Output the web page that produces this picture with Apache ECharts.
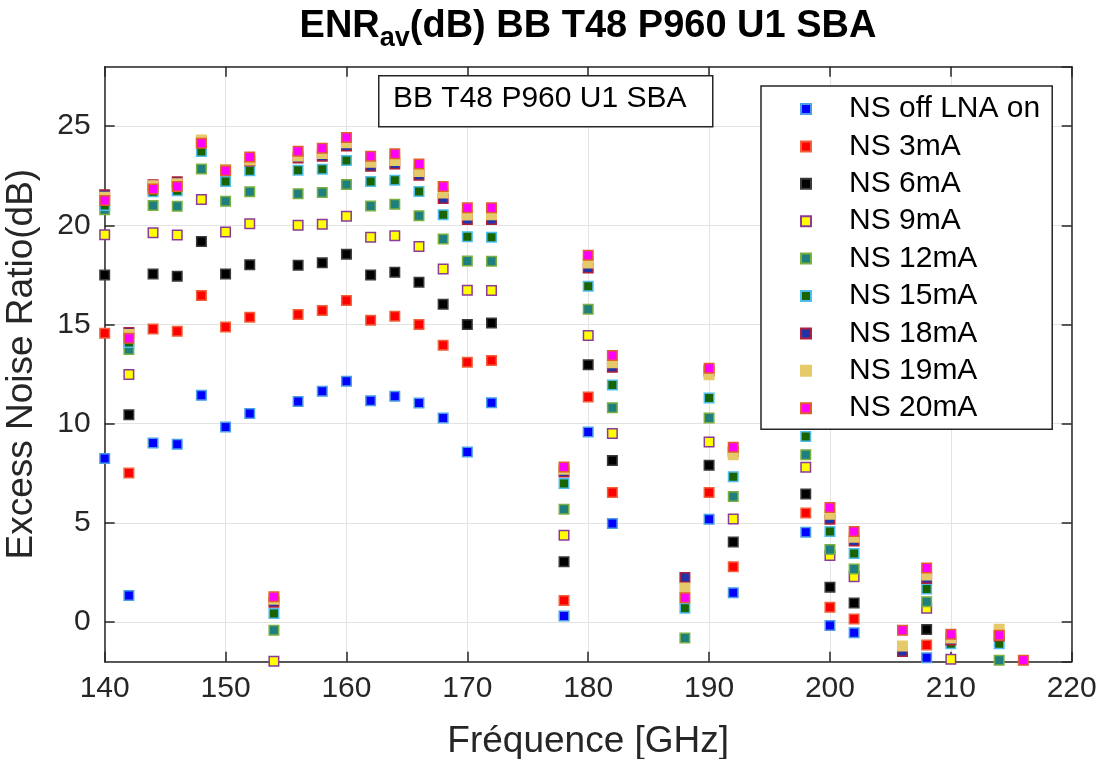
<!DOCTYPE html>
<html>
<head>
<meta charset="utf-8">
<script src="https://cdn.jsdelivr.net/npm/echarts@6/dist/echarts.min.js"></script>
<style>html,body{margin:0;padding:0;background:#fff}#c{width:1104px;height:759px}</style>
</head>
<body>
<div id="c"></div>
<script>
const freq = [140,142,144,146,148,150,152,154,156,158,160,162,164,166,168,170,172,178,180,182,188,190,192,198,200,202,206,208,210,214,216];
const nsOff = [8.24,1.34,9.03,8.96,11.43,9.83,10.52,null,11.12,11.63,12.14,11.16,11.39,11.04,10.29,8.57,11.06,0.30,9.58,4.97,null,5.18,1.48,4.53,-0.17,-0.54,null,-1.8,null,null,null];
const ns3 = [14.56,7.52,14.77,14.66,16.46,14.87,15.37,null,15.5,15.71,16.21,15.22,15.42,15.0,13.96,13.1,13.19,1.09,11.34,6.53,null,6.53,2.79,5.5,0.74,0.15,null,-1.16,null,null,null];
const ns6 = [17.5,10.45,17.55,17.43,19.19,17.55,18.01,null,17.99,18.11,18.55,17.5,17.63,17.13,16.02,15.0,15.08,3.04,12.97,8.14,null,7.9,4.03,6.46,1.76,0.96,null,-0.38,null,null,null];
const ns9 = [19.53,12.48,19.63,19.51,21.31,19.66,20.08,-1.98,20.0,20.06,20.46,19.4,19.48,18.94,17.8,16.73,16.71,4.38,14.45,9.5,null,9.08,5.2,7.8,3.36,2.28,null,0.69,-1.88,null,null];
const ns12 = [20.79,13.74,21.0,20.96,22.84,21.21,21.69,-0.42,21.6,21.66,22.06,20.98,21.06,20.49,19.31,18.2,18.19,5.69,15.77,10.81,-0.8,10.29,6.33,8.44,3.66,2.67,null,1.02,null,-1.93,null];
const ns15 = [21.0,14.1,21.7,21.75,23.72,22.21,22.76,0.43,22.78,22.83,23.27,22.21,22.28,21.71,20.54,19.43,19.4,6.98,16.93,11.95,0.7,11.29,7.33,9.36,4.56,3.46,null,1.66,-1.1,-1.09,null];
const ns18 = [21.55,14.6,22.05,22.2,24.2,22.8,23.25,1.0,23.4,23.49,24.0,22.98,23.09,22.53,21.36,20.3,20.29,7.57,17.85,12.84,2.25,12.65,8.6,null,5.18,4.08,-1.48,2.2,-0.9,-0.7,null];
const ns19 = [21.42,14.5,22.0,22.1,24.3,22.8,23.3,1.15,23.5,23.62,24.16,23.18,23.27,22.72,21.63,20.52,20.54,7.7,18.1,13.07,1.71,12.47,8.44,null,5.44,4.28,-1.21,2.37,-0.8,-0.37,null];
const ns20 = [21.26,14.31,21.83,21.96,24.14,22.75,23.45,1.27,23.74,23.89,24.43,23.49,23.61,23.09,21.96,20.89,20.89,7.82,18.49,13.44,1.22,12.79,8.81,null,5.77,4.56,-0.42,2.73,-0.62,-0.67,-1.93];

const seriesNames = ['NS off LNA on','NS 3mA','NS 6mA','NS 9mA','NS 12mA','NS 15mA','NS 18mA','NS 19mA','NS 20mA'];
const seriesValues = [nsOff, ns3, ns6, ns9, ns12, ns15, ns18, ns19, ns20];
const fillColors = ['#0000ff','#ff0000','#000000','#ffff00','#1f7f7f','#1a6400','#2233aa','#e6ca6a','#ff00ff'];
const edgeColors = ['#4a9de6','#f0603a','#3a3a3a','#8a3a9a','#7ab040','#4dbeee','#b0203a','#e6ca6a','#e0602a'];

const xTicks = {min:140, max:220, interval:10};
const yRange = {min:-2, max:28};

const chart = echarts.init(document.getElementById('c'), null, {renderer:'canvas'});
const axisColor = '#262626';
const fontFam = 'Liberation Sans, Arial, sans-serif';

const series = seriesNames.map((name, k) => ({
  name: name,
  type: 'scatter',
  symbol: 'rect',
  symbolSize: 9.5,
  z: 2 + k * 0.01,
  itemStyle: {color: fillColors[k], borderColor: edgeColors[k], borderWidth: 1.5, opacity: 1},
  emphasis: {disabled: true},
  data: freq.map((f, i) => [f, seriesValues[k][i]]).filter(d => d[1] !== null)
}));

chart.setOption({
  animation: false,
  backgroundColor: '#fff',
  textStyle: {fontFamily: fontFam},
  grid: {left: 104.7, right: 32.3, top: 66.7, bottom: 97.3, containLabel: false, outerBoundsMode: 'none'},
  xAxis: [{
    type: 'value', position: 'bottom', min: xTicks.min, max: xTicks.max, interval: xTicks.interval,
    axisLine: {show: true, onZero: false, lineStyle: {color: axisColor, width: 1.5}},
    axisTick: {show: true, inside: true, length: 10, lineStyle: {color: axisColor, width: 1.5}},
    splitLine: {show: true, lineStyle: {color: '#e3e3e3', width: 1}},
    axisLabel: {fontSize: 30, color: axisColor, margin: 12, fontFamily: fontFam},
    name: 'Fréquence [GHz]', nameLocation: 'middle', nameGap: 62,
    nameTextStyle: {fontSize: 37, color: axisColor, fontFamily: fontFam}
  }, {
    type: 'value', position: 'top', min: xTicks.min, max: xTicks.max, interval: xTicks.interval,
    axisLine: {show: true, onZero: false, lineStyle: {color: axisColor, width: 1.5}},
    axisTick: {show: true, inside: true, length: 10, lineStyle: {color: axisColor, width: 1.5}},
    splitLine: {show: false}, axisLabel: {show: false}
  }],
  yAxis: [{
    type: 'value', position: 'left', min: yRange.min, max: yRange.max, splitNumber: 6,
    axisLine: {show: true, onZero: false, lineStyle: {color: axisColor, width: 1.5}},
    axisTick: {show: true, inside: true, length: 10, lineStyle: {color: axisColor, width: 1.5}},
    splitLine: {show: true, lineStyle: {color: '#e3e3e3', width: 1}},
    axisLabel: {fontSize: 30, color: axisColor, margin: 14, showMinLabel: false, showMaxLabel: false, fontFamily: fontFam},
    name: 'Excess Noise Ratio(dB)', nameLocation: 'middle', nameGap: 64,
    nameTextStyle: {fontSize: 37, color: axisColor, fontFamily: fontFam}
  }, {
    type: 'value', position: 'right', min: yRange.min, max: yRange.max, splitNumber: 6,
    axisLine: {show: true, onZero: false, lineStyle: {color: axisColor, width: 1.5}},
    axisTick: {show: true, inside: true, length: 10, lineStyle: {color: axisColor, width: 1.5}},
    splitLine: {show: false}, axisLabel: {show: false}
  }],
  legend: {
    orient: 'vertical', left: 761, top: 86,
    backgroundColor: '#fff', borderColor: axisColor, borderWidth: 1.5, borderRadius: 0,
    padding: [8, 12, 6, 39],
    itemWidth: 10, itemHeight: 10, itemGap: 7.4,
    icon: 'rect',
    textStyle: {fontSize: 30, color: '#000', lineHeight: 30, padding: [0, 0, 0, 33], fontFamily: fontFam},
    data: seriesNames
  },
  graphic: [
    {type: 'rect', left: 378, top: 75, z: 10,
     shape: {width: 334, height: 51}, style: {fill: '#fff', stroke: axisColor, lineWidth: 1.5}},
    {type: 'text', left: 393, top: 84, z: 11,
     style: {text: 'BB T48 P960 U1 SBA', fontSize: 30, fill: '#000', fontFamily: fontFam}},
    {type: 'text', x: 588, y: 27, z: 11,
     style: {
       text: '{a|ENR}{s|av}{a|(dB) BB T48 P960 U1 SBA}',
       align: 'center', verticalAlign: 'middle',
       rich: {
         a: {fontSize: 38, fontWeight: 'bold', fill: '#000', fontFamily: fontFam},
         s: {fontSize: 27, fontWeight: 'bold', fill: '#000', fontFamily: fontFam, padding: [24, 0, 0, 0]}
       }
     }}
  ],
  series: series
});
</script>
</body>
</html>
